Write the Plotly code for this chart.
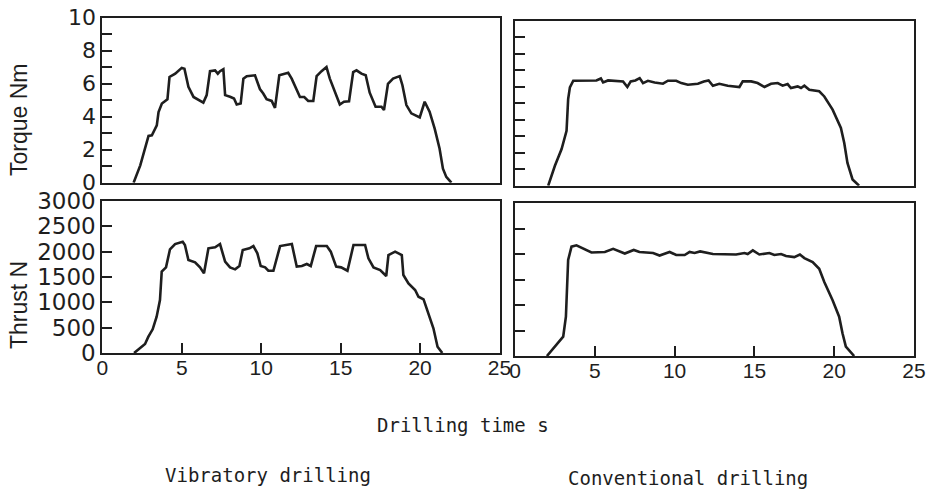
import plotly.graph_objects as go

# ---------------- data ----------------
vib_torque_t = [1.97, 2.39, 2.91, 3.12, 3.43, 3.54, 3.75, 4.10, 4.23, 4.59, 5.00, 5.17, 5.42, 5.74,
                6.36, 6.57, 6.78, 7.10, 7.27, 7.41, 7.62, 7.73, 8.04, 8.29, 8.46, 8.71, 8.88, 9.09,
                9.61, 9.92, 10.13, 10.34, 10.66, 10.87, 11.14, 11.70, 11.92, 12.23, 12.44, 12.71,
                12.96, 13.28, 13.49, 13.80, 14.11, 14.32, 14.64, 14.95, 15.21, 15.53, 15.79, 16.00,
                16.31, 16.58, 16.83, 17.20, 17.57, 17.73, 17.98, 18.30, 18.72, 18.89, 19.14, 19.45,
                19.98, 20.29, 20.60, 20.92, 21.23, 21.44, 21.65, 21.97]
vib_torque = [0.0, 1.05, 2.83, 2.87, 3.47, 4.28, 4.79, 5.05, 6.40, 6.60, 6.95, 6.90, 5.80, 5.19,
              4.85, 5.30, 6.75, 6.80, 6.60, 6.75, 6.87, 5.30, 5.20, 5.10, 4.73, 4.79, 6.30, 6.45,
              6.50, 5.67, 5.40, 5.05, 4.95, 4.53, 6.50, 6.65, 6.30, 5.67, 5.19, 5.19,
              4.95, 4.95, 6.45, 6.75, 7.00, 6.30, 5.45, 4.73, 4.90, 4.93, 6.70, 6.80,
              6.60, 6.50, 5.45, 4.60, 4.60, 4.40, 5.99, 6.30, 6.45, 5.90, 4.70, 4.20,
              3.95, 4.90, 4.30, 3.27, 2.06, 0.85, 0.35, 0.0]

conv_torque_t = [2.08, 2.50, 2.92, 3.23, 3.33, 3.44, 3.65, 4.38, 5.10, 5.38, 5.52, 5.83, 6.77, 7.04,
                 7.25, 7.54, 7.81, 8.02, 8.33, 8.75, 9.27, 9.58, 10.10, 10.42, 10.83, 11.46, 11.83,
                 12.13, 12.40, 12.80, 13.33, 14.06, 14.27, 14.80, 15.20, 15.63, 16.04, 16.46, 16.77,
                 17.08, 17.29, 17.71, 17.92, 18.13, 18.44, 19.06, 19.38, 19.90, 20.42, 20.63, 20.83,
                 21.15, 21.56]
conv_torque = [0.0, 1.21, 2.22, 3.33, 5.25, 5.96, 6.36, 6.38, 6.38, 6.50, 6.26, 6.38, 6.32, 5.98,
               6.32, 6.38, 6.52, 6.22, 6.36, 6.26, 6.18, 6.36, 6.36, 6.22, 6.12, 6.18, 6.32,
               6.38, 6.06, 6.18, 6.06, 5.98, 6.32, 6.32, 6.22, 5.98, 6.18, 6.22, 6.06,
               6.16, 5.92, 6.02, 5.92, 6.06, 5.82, 5.72, 5.41, 4.61, 3.50, 2.59, 1.38,
               0.38, 0.0]

vib_thrust_t = [2.00, 2.69, 2.90, 3.17, 3.42, 3.63, 3.74, 4.01, 4.26, 4.58, 5.06, 5.20, 5.42, 5.84,
                6.15, 6.40, 6.68, 7.10, 7.41, 7.73, 8.04, 8.36, 8.63, 8.84, 9.26, 9.51, 9.76, 9.97,
                10.25, 10.45, 10.77, 11.19, 11.93, 12.24, 12.56, 12.87, 13.12, 13.46, 14.13, 14.38,
                14.72, 15.03, 15.43, 15.81, 16.54, 16.75, 17.07, 17.49, 17.87, 18.01, 18.43, 18.85,
                18.95, 19.27, 19.69, 19.90, 20.22, 20.53, 20.84, 21.10, 21.40]
vib_thrust = [0, 178, 322, 467, 717, 1046, 1605, 1690, 2046, 2151, 2197, 2131, 1835, 1790,
              1690, 1572, 2066, 2086, 2151, 1802, 1690, 1651, 1717, 2033, 2066, 2111, 1967, 1717,
              1690, 1624, 1624, 2111, 2151, 1704, 1717, 1756, 1717, 2111, 2111, 2000,
              1704, 1690, 1624, 2131, 2131, 1868, 1690, 1638, 1520, 1934, 2000, 1934,
              1539, 1375, 1243, 1111, 1059, 783, 487, 125, 0]

conv_thrust_t = [2.00, 2.50, 3.02, 3.19, 3.33, 3.54, 3.85, 4.79, 5.63, 6.15, 6.88, 7.44, 7.80, 8.65,
                 9.06, 9.69, 10.10, 10.63, 10.94, 11.25, 11.60, 12.40, 13.85, 14.38, 14.58, 14.90,
                 15.31, 15.94, 16.25, 16.67, 16.98, 17.50, 17.85, 18.13, 18.65, 19.06, 19.38, 19.90,
                 20.31, 20.52, 20.73, 21.25]
conv_thrust = [0, 183, 379, 771, 1882, 2144, 2170, 2030, 2040, 2100, 2010, 2080, 2040, 2020,
               1970, 2040, 1980, 1980, 2040, 2020, 2050, 2000, 1990, 2020, 2000, 2070,
               1990, 2020, 1980, 2000, 1960, 1940, 1990, 1920, 1840, 1710, 1450, 1095,
               770, 445, 183, 0]

x_tick_vals = [0, 5, 10, 15, 20, 25]
torque_tick_vals = [0, 1, 2, 3, 4, 5, 6, 7, 8, 9, 10]
torque_tick_text = ["0", "", "2", "", "4", "", "6", "", "8", "", "10"]
thrust_tick_vals = [0, 500, 1000, 1500, 2000, 2500, 3000]
thrust_tick_text = ["0", "500", "1000", "1500", "2000", "2500", "3000"]

# ---------------- figure ----------------
W, H = 926, 491
INK = "#1e1e1e"

def xd(a, b):
    return [a / W, b / W]

def yd(top, bottom):
    return [1 - bottom / H, 1 - top / H]

fig = go.Figure()
series = [
    (vib_torque_t, vib_torque, "x", "y"),
    (conv_torque_t, conv_torque, "x2", "y2"),
    (vib_thrust_t, vib_thrust, "x3", "y3"),
    (conv_thrust_t, conv_thrust, "x4", "y4"),
]
for t, v, xa, ya in series:
    fig.add_trace(go.Scatter(x=t, y=v, xaxis=xa, yaxis=ya, mode="lines",
                             line=dict(color=INK, width=2.6), showlegend=False,
                             hoverinfo="skip"))

def tfont(size, family="DejaVu Sans, sans-serif"):
    return dict(family=family, size=size, color=INK)

xfont = tfont(21, "Liberation Sans, Arial, sans-serif")

common = dict(showline=True, linecolor=INK, linewidth=2, mirror=True, showgrid=False,
              zeroline=False, ticks="inside", tickwidth=1.6, tickcolor=INK,
              automargin=False, fixedrange=True, ticklabeloverflow="allow")

left_x = xd(102.3, 499.5)
right_x = xd(515, 914)

fig.update_layout(
    width=W, height=H,
    margin=dict(l=0, r=0, t=0, b=0),
    paper_bgcolor="white", plot_bgcolor="white",
    xaxis=dict(domain=left_x, range=[0, 25], anchor="y", showticklabels=False,
               tickvals=x_tick_vals, ticklen=0, **common),
    yaxis=dict(domain=yd(17.5, 182.7), range=[0, 10], anchor="x", ticklen=10,
               tickfont=tfont(22),
               tickvals=torque_tick_vals, ticktext=torque_tick_text, **common),
    xaxis2=dict(domain=right_x, range=[0, 25], anchor="y2", showticklabels=False,
                tickvals=x_tick_vals, ticklen=0, **common),
    yaxis2=dict(domain=yd(20.7, 185.7), range=[0, 10], anchor="x2", showticklabels=False,
                ticklen=10, tickvals=torque_tick_vals, **common),
    xaxis3=dict(domain=left_x, range=[0, 25], anchor="y3", ticklen=10, tickfont=xfont,
                ticklabelstandoff=-5, tickvals=x_tick_vals, **common),
    yaxis3=dict(domain=yd(201, 353), range=[0, 3000], anchor="x3", ticklen=10,
                tickfont=tfont(23),
                tickvals=thrust_tick_vals, ticktext=thrust_tick_text, **common),
    xaxis4=dict(domain=right_x, range=[0, 25], anchor="y4", ticklen=10, tickfont=xfont,
                ticklabelstandoff=-5, tickvals=x_tick_vals, **common),
    yaxis4=dict(domain=yd(203, 356), range=[0, 3000], anchor="x4", showticklabels=False,
                ticklen=10, tickvals=thrust_tick_vals, **common),
)

title_font = dict(family="Liberation Sans, Arial, sans-serif", size=23, color=INK)
mono_font = dict(family="DejaVu Sans Mono, monospace", size=19, color=INK)

def px_x(x):
    return x / W

def px_y(y):
    return 1 - y / H

annotations = [
    dict(text="Torque Nm", x=px_x(19), y=px_y(120), textangle=-90, font=title_font),
    dict(text="Thrust N", x=px_x(19), y=px_y(305), textangle=-90, font=title_font),
    dict(text="Drilling time s", x=px_x(463), y=px_y(425), font=mono_font),
    dict(text="Vibratory drilling", x=px_x(268), y=px_y(475), font=mono_font),
    dict(text="Conventional drilling", x=px_x(688), y=px_y(478), font=mono_font),
]
for a in annotations:
    a.update(xref="paper", yref="paper", showarrow=False, xanchor="center", yanchor="middle")
fig.update_layout(annotations=annotations)

fig.write_html(
    "out.html",
    config={"displayModeBar": False},
    post_script="document.body.style.margin='0px';document.body.style.overflow='hidden';",
)
